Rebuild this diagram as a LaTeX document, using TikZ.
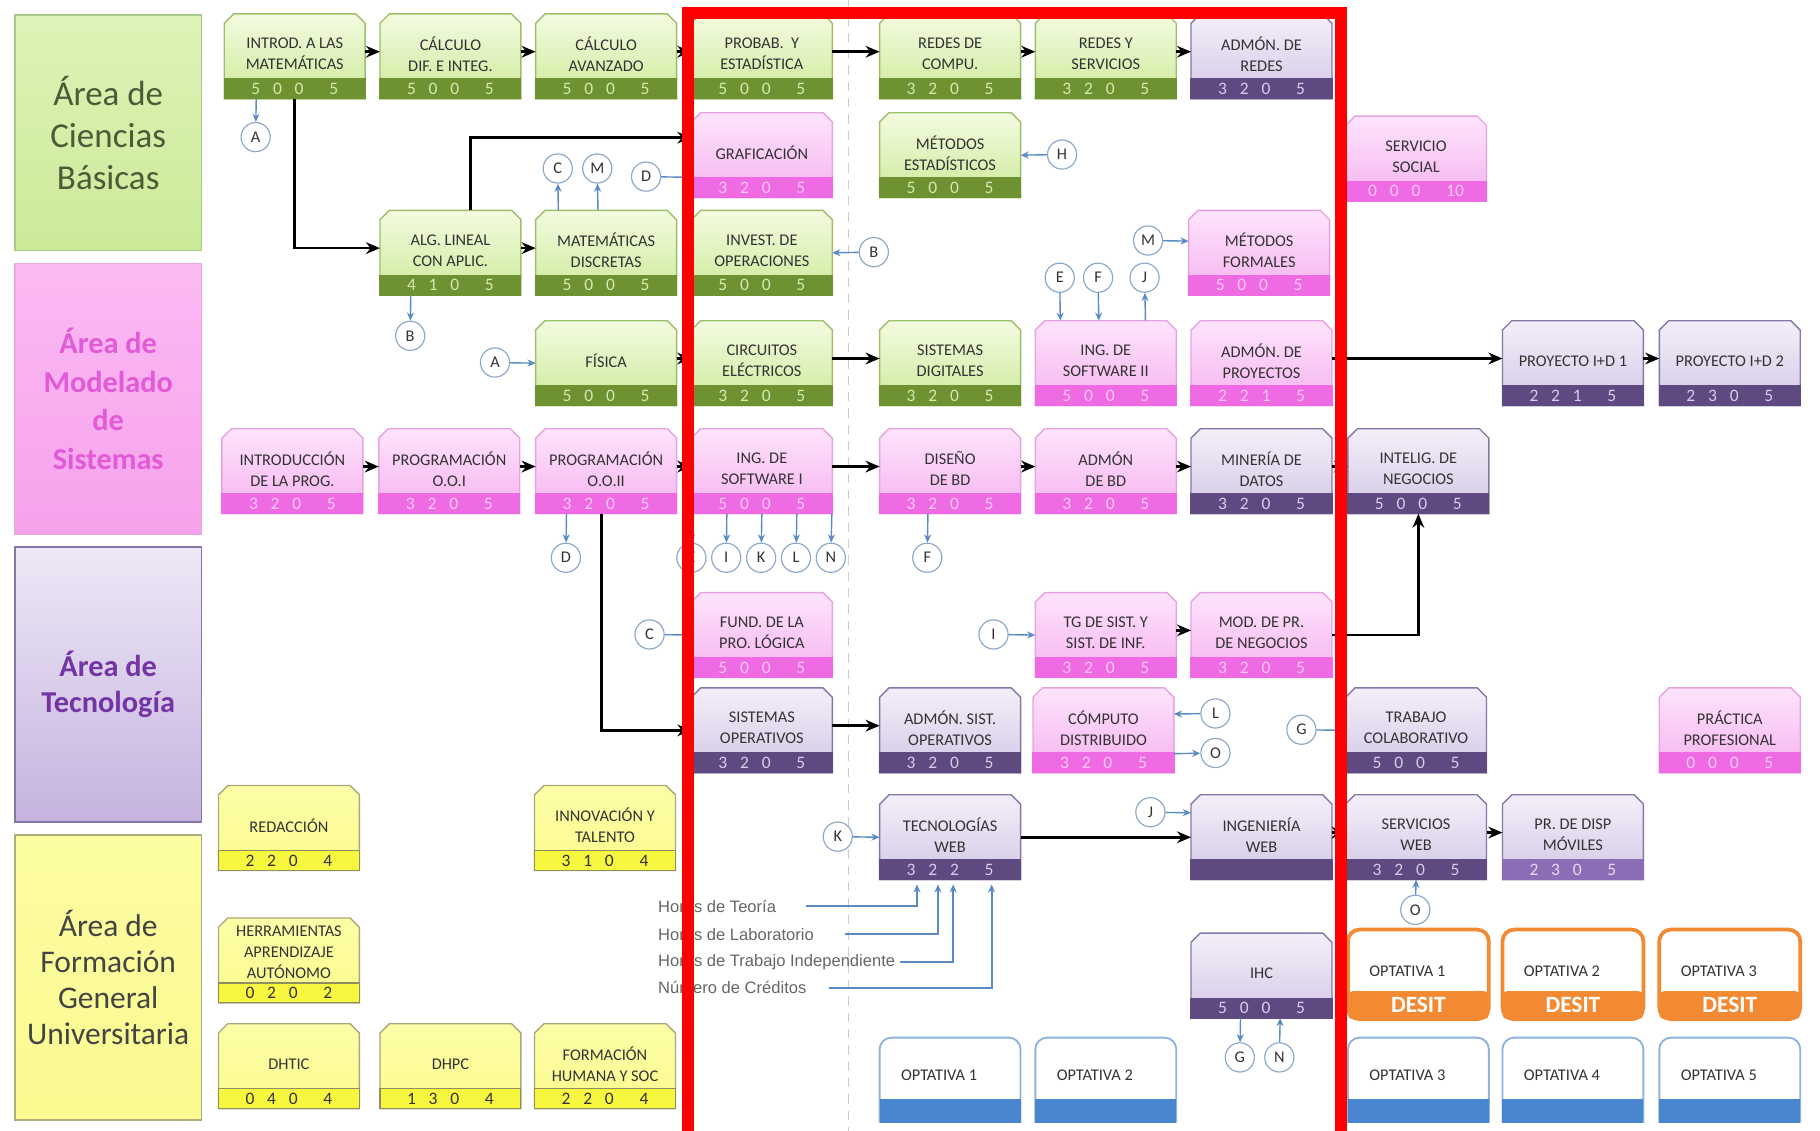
\documentclass[tikz,border=0pt]{standalone}
\usepackage{fontspec}
\setmainfont{Carlito}
\newfontfamily\legendfont{Liberation Sans}
\usetikzlibrary{arrows.meta}

% course colour schemes
\definecolor{greentop}{HTML}{F3FBE0}
\definecolor{greenbot}{HTML}{CDEA9A}
\definecolor{greenline}{HTML}{9DBE6A}
\definecolor{greenband}{HTML}{6E9232}
\definecolor{greenbl}{HTML}{6E9232}
\definecolor{greennum}{HTML}{D5EAB0}
\definecolor{pinktop}{HTML}{FDE4FB}
\definecolor{pinkbot}{HTML}{F7B2F0}
\definecolor{pinkline}{HTML}{E7A2E0}
\definecolor{pinkband}{HTML}{EF6BE3}
\definecolor{pinkbl}{HTML}{EF6BE3}
\definecolor{pinknum}{HTML}{FFC8F6}
\definecolor{purpletop}{HTML}{F3EFF9}
\definecolor{purplebot}{HTML}{D3C8E6}
\definecolor{purpleline}{HTML}{8676A6}
\definecolor{purpleband}{HTML}{5E4A80}
\definecolor{purplebl}{HTML}{5E4A80}
\definecolor{purplenum}{HTML}{D6CDEB}
\definecolor{lpurpletop}{HTML}{F3EFF9}
\definecolor{lpurplebot}{HTML}{D3C8E6}
\definecolor{lpurpleline}{HTML}{8676A6}
\definecolor{lpurpleband}{HTML}{8A6DB5}
\definecolor{lpurplebl}{HTML}{8A6DB5}
\definecolor{lpurplenum}{HTML}{E4DCF2}
\definecolor{yellowtop}{HTML}{FDFDA8}
\definecolor{yellowbot}{HTML}{FBFB8E}
\definecolor{yellowline}{HTML}{A8A878}
\definecolor{yellowband}{HTML}{F7F740}
\definecolor{yellowbl}{HTML}{8E8E60}
\definecolor{yellownum}{HTML}{333333}
% area colours
\definecolor{cbtop}{HTML}{DDF3B8}
\definecolor{cbbot}{HTML}{CBEA98}
\definecolor{cbline}{HTML}{A9C98A}
\definecolor{cbtext}{HTML}{4C5A38}
\definecolor{mstop}{HTML}{FBBAF3}
\definecolor{msbot}{HTML}{F6A2EC}
\definecolor{msline}{HTML}{E9A6E2}
\definecolor{mstext}{HTML}{E35AD6}
\definecolor{tectop}{HTML}{EEE8F6}
\definecolor{tecbot}{HTML}{C5B3DF}
\definecolor{tecline}{HTML}{8676A6}
\definecolor{tectext}{HTML}{7434A4}
\definecolor{fgtop}{HTML}{FCFCA2}
\definecolor{fgbot}{HTML}{FAFA90}
\definecolor{fgline}{HTML}{ADAD7A}
\definecolor{fgtext}{HTML}{444444}
% others
\definecolor{desit}{HTML}{F28A33}
\definecolor{optblue}{HTML}{4A86CF}
\definecolor{optline}{HTML}{8DB2DE}
\definecolor{linkblue}{HTML}{5A8AC6}
\definecolor{ringblue}{HTML}{8CA8C8}
\definecolor{legendgray}{HTML}{666666}
\definecolor{titlegray}{HTML}{333333}

\def\numrow#1 #2 #3 #4\endnum{#1\hspace{5.5pt}#2\hspace{5.5pt}#3\hspace{11pt}#4}

% course box: [title shift], name, top-left, scheme, title, hours
\newcommand{\curso}[6][1pt]{%
  \node[cbox] (#2) at (#3) {};
  \shadedraw[top color=#4top, bottom color=#4bot, draw=#4line, line width=0.6pt]
    (#2.south west) -- ([yshift=-4pt]#2.north west) -- ([xshift=4pt]#2.north west)
    -- ([xshift=-4pt]#2.north east) -- ([yshift=-4pt]#2.north east) -- (#2.south east) -- cycle;
  \filldraw[fill=#4band, draw=#4bl, line width=0.5pt] (#2.south west) rectangle ([yshift=8.5pt]#2.south east);
  \node[ctitle] (#2-t) at ([yshift=#1]#2.center) {#5};
  \node[cnums, text=#4num] (#2-n) at ([yshift=4.25pt]#2.south) {\numrow#6\endnum};
}
% elective with DESIT band
\newcommand{\optdesit}[3]{%
  \node[cbox, minimum height=38pt] (#1) at (#2) {};
  \draw[desit, line width=1.6pt, fill=white, rounded corners=5pt] (#1.south west) rectangle (#1.north east);
  \fill[desit, rounded corners=2pt] (#1.south west) rectangle ([yshift=12pt]#1.south east);
  \node[otitle] (#1-t) at ([xshift=9pt,yshift=1.5pt]#1.west) {#3};
  \node[dtext] (#1-d) at ([yshift=6pt]#1.south) {DESIT};
}
% plain elective
\newcommand{\optbase}[3]{%
  \node[cbox] (#1) at (#2) {};
  \draw[optline, line width=0.8pt, fill=white, rounded corners=5pt] (#1.south west) -- (#1.north west) -- (#1.north east) -- (#1.south east);
  \fill[optblue] (#1.south west) rectangle ([yshift=10pt]#1.south east);
  \node[otitle] (#1-t) at ([xshift=9pt,yshift=2pt]#1.west) {#3};
}

\begin{document}
\begin{tikzpicture}[
  x=0.498pt, y=-0.498pt,
  cbox/.style={minimum width=60pt, minimum height=36pt, inner sep=0pt, anchor=north west},
  ctitle/.style={align=center, font=\fontsize{7}{9}\selectfont, text=titlegray, inner sep=0pt},
  cnums/.style={font=\fontsize{7.5}{8}\selectfont, inner sep=0pt},
  otitle/.style={anchor=west, font=\fontsize{7}{8}\selectfont, text=titlegray, inner sep=0pt},
  dtext/.style={font=\bfseries\fontsize{10}{10}\selectfont, text=white, inner sep=0pt},
  area/.style={anchor=north west, minimum width=80pt, align=center, inner sep=0pt, line width=0.8pt},
  flow/.style={-{Stealth[length=6pt, width=5pt]}, line width=1.1pt, black},
  link/.style={-{Stealth[length=3.5pt, width=3pt]}, line width=0.6pt, linkblue},
  ring/.style={circle, draw=ringblue, fill=white, line width=0.5pt, minimum size=12.5pt, inner sep=0pt, font=\fontsize{7}{8}\selectfont, text=titlegray},
  legend/.style={anchor=west, inner sep=0pt, font=\legendfont\fontsize{7.1}{8}\selectfont, text=legendgray}
]
\useasboundingbox (0,0) rectangle (1566.3,973.3);

% semester divider
\draw[gray!40, line width=0.6pt, dash pattern=on 4pt off 3pt] (730,0) -- (730,975);

% areas
\node[area, minimum height=101pt, top color=cbtop, bottom color=cbbot, draw=cbline, text=cbtext, font=\fontsize{15}{18}\selectfont] (areacb) at (12,12) {Área de\\Ciencias\\Básicas};
\node[area, minimum height=116pt, top color=mstop, bottom color=msbot, draw=msline, text=mstext, font=\bfseries\fontsize{13}{16.5}\selectfont] (areams) at (12,226) {Área de\\Modelado\\de\\Sistemas};
\node[area, minimum height=118pt, top color=tectop, bottom color=tecbot, draw=tecline, text=tectext, font=\bfseries\fontsize{13}{15.5}\selectfont] (areatec) at (12,470) {Área de\\Tecnología};
\node[area, minimum height=122pt, top color=fgtop, bottom color=fgbot, draw=fgline, text=fgtext, font=\fontsize{13.5}{15.5}\selectfont] (areafg) at (12,718) {Área de\\Formación\\General\\Universitaria};

% row 1
\curso{intromat}{193,12}{green}{INTROD. A LAS\\MATEMÁTICAS}{5 0 0 5}
\curso{calcdif}{327,12}{green}{CÁLCULO\\DIF. E INTEG.}{5 0 0 5}
\curso{calcav}{461,12}{green}{CÁLCULO\\AVANZADO}{5 0 0 5}
\curso{probest}{595,12}{green}{PROBAB.\ \ Y\\ESTADÍSTICA}{5 0 0 5}
\curso{redescomp}{757,12}{green}{REDES DE\\COMPU.}{3 2 0 5}
\curso{redesserv}{891,12}{green}{REDES Y\\SERVICIOS}{3 2 0 5}
\curso{admredes}{1025,12}{purple}{ADMÓN. DE\\REDES}{3 2 0 5}
% row 2
\curso{grafic}{595,97}{pink}{GRAFICACIÓN}{3 2 0 5}
\curso{metest}{757,97}{green}{MÉTODOS\\ESTADÍSTICOS}{5 0 0 5}
\curso{servsoc}{1158,100}{pink}{SERVICIO\\SOCIAL}{0 0 0 10}
% row 3
\curso{alglin}{327,181}{green}{ALG. LINEAL\\CON APLIC.}{4 1 0 5}
\curso{matdisc}{461,181}{green}{MATEMÁTICAS\\DISCRETAS}{5 0 0 5}
\curso{invop}{595,181}{green}{INVEST. DE\\OPERACIONES}{5 0 0 5}
\curso{metform}{1023,181}{pink}{MÉTODOS\\FORMALES}{5 0 0 5}
% row 4
\curso{fisica}{461,276}{green}{FÍSICA}{5 0 0 5}
\curso{circuitos}{595,276}{green}{CIRCUITOS\\ELÉCTRICOS}{3 2 0 5}
\curso{sisdig}{757,276}{green}{SISTEMAS\\DIGITALES}{3 2 0 5}
\curso{ingsw2}{891,276}{pink}{ING. DE\\SOFTWARE II}{5 0 0 5}
\curso{admproy}{1025,276}{pink}{ADMÓN. DE\\PROYECTOS}{2 2 1 5}
\curso{proy1}{1293,276}{purple}{PROYECTO I+D 1}{2 2 1 5}
\curso{proy2}{1428,276}{purple}{PROYECTO I+D 2}{2 3 0 5}
% row 5
\curso{introprog}{191,369}{pink}{INTRODUCCIÓN\\DE LA PROG.}{3 2 0 5}
\curso{poo1}{326,369}{pink}{PROGRAMACIÓN\\O.O.I}{3 2 0 5}
\curso{poo2}{461,369}{pink}{PROGRAMACIÓN\\O.O.II}{3 2 0 5}
\curso{ingsw1}{595,369}{pink}{ING. DE\\SOFTWARE I}{5 0 0 5}
\curso{disbd}{757,369}{pink}{DISEÑO\\DE BD}{3 2 0 5}
\curso{admbd}{891,369}{pink}{ADMÓN\\DE BD}{3 2 0 5}
\curso{mineria}{1025,369}{purple}{MINERÍA DE\\DATOS}{3 2 0 5}
\curso{intneg}{1160,369}{purple}{INTELIG. DE\\NEGOCIOS}{5 0 0 5}
% row 6
\curso{fundlog}{595,510}{pink}{FUND. DE LA\\PRO. LÓGICA}{5 0 0 5}
\curso{tgsis}{891,510}{pink}{TG DE SIST. Y\\SIST. DE INF.}{3 2 0 5}
\curso{modneg}{1025,510}{pink}{MOD. DE PR.\\DE NEGOCIOS}{3 2 0 5}
% row 7
\curso{sisop}{595,592}{purple}{SISTEMAS\\OPERATIVOS}{3 2 0 5}
\curso{admsisop}{757,592}{purple}{ADMÓN. SIST.\\OPERATIVOS}{3 2 0 5}
\curso{compdist}{889,592}{pink}{CÓMPUTO\\DISTRIBUIDO}{3 2 0 5}
\curso{trabcol}{1158,592}{purple}{TRABAJO\\COLABORATIVO}{5 0 0 5}
\curso{practica}{1428,592}{pink}{PRÁCTICA\\PROFESIONAL}{0 0 0 5}
% row 8
\curso{redaccion}{188,676}{yellow}{REDACCIÓN}{2 2 0 4}
\curso{innov}{460,676}{yellow}{INNOVACIÓN Y\\TALENTO}{3 1 0 4}
\curso{tecweb}{757,684}{purple}{TECNOLOGÍAS\\WEB}{3 2 2 5}
\curso{ingweb}{1025,684}{purple}{INGENIERÍA\\WEB}{{} {} {} {}}
\curso{servweb}{1158,684}{purple}{SERVICIOS\\WEB}{3 2 0 5}
\curso{movil}{1293,684}{lpurple}{PR. DE DISP\\MÓVILES}{2 3 0 5}
% row 9
\curso[3.5pt]{herram}{188,790}{yellow}{HERRAMIENTAS\\APRENDIZAJE\\AUTÓNOMO}{0 2 0 2}
\curso{ihc}{1025,803}{purple}{IHC}{5 0 0 5}
\optdesit{opd1}{1160,800}{OPTATIVA 1}
\optdesit{opd2}{1293,800}{OPTATIVA 2}
\optdesit{opd3}{1428,800}{OPTATIVA 3}
% row 10
\curso{dhtic}{188,881}{yellow}{DHTIC}{0 4 0 4}
\curso{dhpc}{327,881}{yellow}{DHPC}{1 3 0 4}
\curso{formhum}{460,881}{yellow}{FORMACIÓN\\HUMANA Y SOC}{2 2 0 4}
\optbase{opt1}{757,893}{OPTATIVA 1}
\optbase{opt2}{891,893}{OPTATIVA 2}
\optbase{opt3}{1160,893}{OPTATIVA 3}
\optbase{opt4}{1293,893}{OPTATIVA 4}
\optbase{opt5}{1428,893}{OPTATIVA 5}

% letter connectors
\node[ring] (cA1) at (220,118) {A};
\node[ring] (cC1) at (480,145) {C};
\node[ring] (cM1) at (514,145) {M};
\node[ring] (cD1) at (556,152) {D};
\node[ring] (cH) at (914,133) {H};
\node[ring] (cB2) at (752,217) {B};
\node[ring] (cM2) at (988,207) {M};
\node[ring] (cE1) at (912,239) {E};
\node[ring] (cF1) at (945,239) {F};
\node[ring] (cJ1) at (985,239) {J};
\node[ring] (cB1) at (353,289) {B};
\node[ring] (cA2) at (426,312) {A};
\node[ring] (cD2) at (487,480) {D};
\node[ring] (cE2) at (595,480) {E};
\node[ring] (cI1) at (625,480) {I};
\node[ring] (cK1) at (655,480) {K};
\node[ring] (cL1) at (685,480) {L};
\node[ring] (cN1) at (715,480) {N};
\node[ring] (cF2) at (798,480) {F};
\node[ring] (cC2) at (559,546) {C};
\node[ring] (cI2) at (855,546) {I};
\node[ring] (cL2) at (1046,614) {L};
\node[ring] (cO1) at (1046,648) {O};
\node[ring] (cG1) at (1120,628) {G};
\node[ring] (cK2) at (721,720) {K};
\node[ring] (cJ2) at (990,699) {J};
\node[ring] (cO2) at (1218,783) {O};
\node[ring] (cG2) at (1067,910) {G};
\node[ring] (cN2) at (1101,910) {N};

% legend
\node[legend] (legT) at (566,780) {Horas de Teoría};
\node[legend] (legL) at (566,804) {Horas de Laboratorio};
\node[legend] (legI) at (566,828) {Horas de Trabajo Independiente};
\node[legend] (legC) at (566,850) {Número de Créditos};
\coordinate (hT) at ([xshift=16pt,yshift=-2pt]tecweb.south west);
\coordinate (hL) at ([xshift=25pt,yshift=-2pt]tecweb.south west);
\coordinate (hI) at ([xshift=31.5pt,yshift=-2pt]tecweb.south west);
\coordinate (hC) at ([xshift=48pt,yshift=-2pt]tecweb.south west);
\draw[link, line width=0.9pt] ([xshift=12.5pt]legT.east) -| (hT);
\draw[link, line width=0.9pt] ([xshift=13pt]legL.east) -| (hL);
\draw[link, line width=0.9pt] ([xshift=2pt]legI.east) -| (hI);
\draw[link, line width=0.9pt] ([xshift=9.5pt]legC.east) -| (hC);

% prerequisite chains
\draw[flow] ([yshift=2pt]intromat.east) -- ([yshift=2pt]calcdif.west);
\draw[flow] ([yshift=2pt]calcdif.east) -- ([yshift=2pt]calcav.west);
\draw[flow] ([yshift=2pt]calcav.east) -- ([yshift=2pt]probest.west);
\draw[flow] ([yshift=2pt]probest.east) -- ([yshift=2pt]redescomp.west);
\draw[flow] ([yshift=2pt]redescomp.east) -- ([yshift=2pt]redesserv.west);
\draw[flow] ([yshift=2pt]redesserv.east) -- ([yshift=2pt]admredes.west);
\draw[flow] (intromat.south) |- ([yshift=2pt]alglin.west);
\draw[flow] ([xshift=8.5pt]alglin.north) |- ([yshift=7.5pt]grafic.west);
\draw[flow] ([yshift=2pt]alglin.east) -- ([yshift=2pt]matdisc.west);
\draw[flow] ([yshift=2pt]fisica.east) -- ([yshift=2pt]circuitos.west);
\draw[flow] ([yshift=2pt]circuitos.east) -- ([yshift=2pt]sisdig.west);
\draw[flow] ([yshift=2pt]admproy.east) -- ([yshift=2pt]proy1.west);
\draw[flow] ([yshift=2pt]proy1.east) -- ([yshift=2pt]proy2.west);
\draw[flow] ([yshift=2pt]introprog.east) -- ([yshift=2pt]poo1.west);
\draw[flow] ([yshift=2pt]poo1.east) -- ([yshift=2pt]poo2.west);
\draw[flow] ([yshift=2pt]poo2.east) -- ([yshift=2pt]ingsw1.west);
\draw[flow] ([yshift=2pt]ingsw1.east) -- ([yshift=2pt]disbd.west);
\draw[flow] ([yshift=2pt]disbd.east) -- ([yshift=2pt]admbd.west);
\draw[flow] ([yshift=2pt]admbd.east) -- ([yshift=2pt]mineria.west);
\draw[flow] ([yshift=2pt]mineria.east) -- ([yshift=2pt]intneg.west);
\draw[flow] ([xshift=-2pt]poo2.south) |- (sisop.west);
\draw[flow] ([yshift=2pt]tgsis.east) -- ([yshift=2pt]modneg.west);
\draw[flow] (modneg.east) -| (intneg.south);
\draw[flow] ([yshift=2pt]sisop.east) -- ([yshift=2pt]admsisop.west);
\draw[flow] (tecweb.east) -- (ingweb.west);
\draw[flow] ([yshift=2pt]ingweb.east) -- ([yshift=2pt]servweb.west);
\draw[flow] ([yshift=2pt]servweb.east) -- ([yshift=2pt]movil.west);

% letter links
\draw[link] ([xshift=-16.5pt]intromat.south) -- (cA1);
\draw[link] ([xshift=-20.5pt]matdisc.north) -- (cC1);
\draw[link] ([xshift=-3.5pt]matdisc.north) -- (cM1);
\draw[link] (cD1) -- ([yshift=-9.5pt]grafic.west);
\draw[link] (cH) -- (metest.east);
\draw[link] (cB2) -- (invop.east);
\draw[link] (cM2) -- ([yshift=5pt]metform.west);
\draw[link] (cE1) -- ([xshift=-19.5pt]ingsw2.north);
\draw[link] (cF1) -- ([xshift=-3pt]ingsw2.north);
\draw[link] ([xshift=17pt]ingsw2.north) -- (cJ1);
\draw[link] ([xshift=-17pt]alglin.south) -- (cB1);
\draw[link] (cA2) -- (fisica.west);
\draw[link] ([xshift=-17pt]poo2.south) -- (cD2);
\draw[link] ([xshift=-30pt]ingsw1.south) -- (cE2);
\draw[link] ([xshift=-15pt]ingsw1.south) -- (cI1);
\draw[link] (ingsw1.south) -- (cK1);
\draw[link] ([xshift=15pt]ingsw1.south) -- (cL1);
\draw[link] ([xshift=30pt]ingsw1.south) -- (cN1);
\draw[link] ([xshift=-9.5pt]disbd.south) -- (cF2);
\draw[link] (cC2) -- (fundlog.west);
\draw[link] (cI2) -- (tgsis.west);
\draw[link] (cL2) -- ([yshift=7pt]compdist.east);
\draw[link] ([yshift=-10pt]compdist.east) -- (cO1);
\draw[link] (cG1) -- (trabcol.west);
\draw[link] (cK2) -- (tecweb.west);
\draw[link] (cJ2) -- ([yshift=10.5pt]ingweb.west);
\draw[link] (cO2) -- (servweb.south);
\draw[link] ([xshift=-9pt]ihc.south) -- (cG2);
\draw[link] (cN2) -- ([xshift=8pt]ihc.south);

% highlight frame
\draw[red, line width=5pt] (592,11) rectangle (1154,1000);
\end{tikzpicture}
\end{document}
